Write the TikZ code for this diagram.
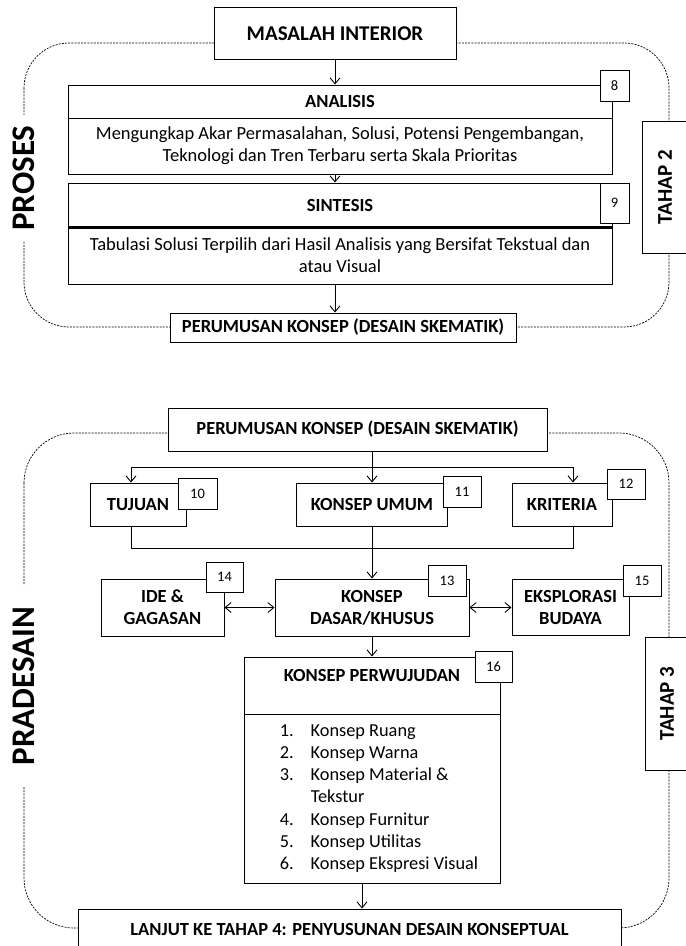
\documentclass[tikz,border=0pt]{standalone}
\usepackage{fontspec}
\setmainfont{Carlito}
\usetikzlibrary{arrows.meta}

\tikzset{
    headbox/.style={draw, line width=1pt, fill=white, inner sep=0pt, align=center,
        font=\bfseries\fontsize{18.5}{22}\selectfont},
    textbox/.style={draw, line width=1pt, fill=white, inner sep=0pt, align=center,
        font=\fontsize{18.5}{22}\selectfont},
    numbox/.style={draw, line width=1pt, fill=white, inner sep=0pt,
        font=\fontsize{14.5}{16}\selectfont},
    dashframe/.style={dash pattern=on 2pt off 1.2pt, line width=0.7pt, rounded corners=45pt},
    sidelabel/.style={rotate=90, fill=white, inner ysep=3pt,
        font=\bfseries\fontsize{33}{36}\selectfont},
    tahapbox/.style={draw, line width=1pt, fill=white, rotate=90, inner sep=0pt,
        font=\bfseries\fontsize{21}{24}\selectfont},
    link/.style={line width=0.9pt, -{Straight Barb[length=6pt,width=10pt]}},
    twolink/.style={line width=0.9pt,
        {Straight Barb[length=6pt,width=10pt]}-{Straight Barb[length=6pt,width=10pt]}}
}

\begin{document}
\begin{tikzpicture}[x=1pt, y=-1pt]
    \useasboundingbox (0,0) rectangle (686,946);
    % dashed frames
    \draw[dashframe] (24,43) rectangle (669,327);
    \draw[dashframe, rounded corners=50pt] (24,433) rectangle (669,928);
    % side labels
    \node[sidelabel, inner xsep=10pt] (proses) at (24,178) {PROSES};
    \node[sidelabel, inner xsep=22pt] (pradesain) at (24,686) {PRADESAIN};
    \node[tahapbox, minimum width=132pt, minimum height=46pt] (tahap2) at (665,187) {TAHAP 2};
    \node[tahapbox, minimum width=133pt, minimum height=44pt] (tahap3) at (667,703.5) {TAHAP 3};
    % tahap 2 boxes
    \node[headbox, font=\bfseries\fontsize{21}{24}\selectfont, minimum width=242pt, minimum height=52pt]
        (masalah) at (335,33.5) {MASALAH INTERIOR};
    \node[headbox, minimum width=544pt, minimum height=33pt] (ana-h) at (340,101.5) {ANALISIS};
    \node[textbox, minimum width=544pt, minimum height=56pt] (ana-b) at (340,146)
        {Mengungkap Akar Permasalahan, Solusi, Potensi Pengembangan,\\
         Teknologi dan Tren Terbaru serta Skala Prioritas};
    \node[headbox, minimum width=544pt, minimum height=44pt] (sin-h) at (340,205) {SINTESIS};
    \node[textbox, minimum width=544pt, minimum height=57pt] (sin-b) at (340,255.5)
        {Tabulasi Solusi Terpilih dari Hasil Analisis yang Bersifat Tekstual dan\\
         atau Visual};
    \draw[line width=2.2pt] (sin-h.south west) -- (sin-h.south east);
    \node[headbox, minimum width=346pt, minimum height=29pt] (perum1) at (343,327.5)
        {PERUMUSAN KONSEP (DESAIN SKEMATIK)};
    % tahap 2 arrows
    \draw[link] (masalah) -- (masalah |- ana-h.north);
    \draw[link] (ana-b.south -| masalah) -- (sin-h.north -| masalah);
    \draw[link] (sin-b.south -| masalah) -- (perum1.north -| masalah);
    % tahap 3 boxes
    \node[headbox, minimum width=379pt, minimum height=43pt] (perum2) at (357.5,429.5)
        {PERUMUSAN KONSEP (DESAIN SKEMATIK)};
    \node[headbox, minimum width=96pt, minimum height=43pt] (tujuan) at (138,504.5) {TUJUAN};
    \node[headbox, minimum width=151pt, minimum height=43pt] (umum) at (372,504.5) {KONSEP UMUM};
    \node[headbox, minimum width=100pt, minimum height=43pt] (kriteria) at (562,504.5) {KRITERIA};
    \node[headbox, minimum width=123pt, minimum height=57pt] (ide) at (162.5,607.5) {IDE \&\\GAGASAN};
    \node[headbox, minimum width=194pt, minimum height=57pt] (dasar) at (372,607.5) {KONSEP\\DASAR/KHUSUS};
    \node[headbox, minimum width=117pt, minimum height=56pt] (eks) at (570.5,607.5) {EKSPLORASI\\BUDAYA};
    \node[headbox, minimum width=256pt, minimum height=57pt, text depth=20pt] (wuj-h) at (372,685.5)
        {KONSEP PERWUJUDAN};
    \node[textbox, minimum width=256pt, minimum height=169pt, font=\fontsize{18.3}{22.3}\selectfont]
        (wuj-b) at (372,798.5) {%
        \hspace*{14pt}\begin{tabular}{@{}l@{\hspace{17pt}}l@{}}
            1. & Konsep Ruang\\
            2. & Konsep Warna\\
            3. & Konsep Material \&\\
               & Tekstur\\
            4. & Konsep Furnitur\\
            5. & Konsep Utilitas\\
            6. & Konsep Ekspresi Visual
        \end{tabular}};
    \node[headbox, minimum width=543pt, minimum height=40pt] (lanjut) at (349.5,929)
        {LANJUT KE TAHAP 4: PENYUSUNAN DESAIN KONSEPTUAL};
    % branch points
    \coordinate (tjT) at (131,467);
    \coordinate (krT) at (573,467);
    \coordinate (tjB) at (131,548);
    \coordinate (krB) at (573,548);
    % tahap 3 arrows
    \draw[line width=0.9pt] (perum2.south -| umum) -- (tjT -| umum);
    \draw[line width=0.9pt] (tjT) -- (krT);
    \draw[link] (tjT) -- (tjT |- tujuan.north);
    \draw[link] (tjT -| umum) -- (umum.north);
    \draw[link] (krT) -- (krT |- kriteria.north);
    \draw[line width=0.9pt] (tjT |- tujuan.south) -- (tjB) -- (krB) -- (krT |- kriteria.south);
    \draw[link] (umum.south) -- (dasar.north);
    \draw[twolink] (ide) -- (dasar);
    \draw[twolink] (dasar) -- (eks);
    \draw[link] (dasar.south) -- (wuj-h.north);
    \draw[link] ([xshift=-10pt]wuj-b.south) -- ([xshift=-10pt]wuj-b.south |- lanjut.north);
    % number boxes
    \foreach \n/\x/\y/\w/\h in {8/614.5/85.5/29/31, 9/614.5/203/29/40,
        10/197.5/493.5/39/31, 11/462/491.5/38/31, 12/626/484/38/30,
        14/224.5/577/37/30, 13/447/580.5/38/31, 15/642/580.5/38/31, 16/493.5/666.5/37/31}
        \node[numbox, minimum width=\w pt, minimum height=\h pt] (num\n) at (\x,\y) {\n};
\end{tikzpicture}
\end{document}
